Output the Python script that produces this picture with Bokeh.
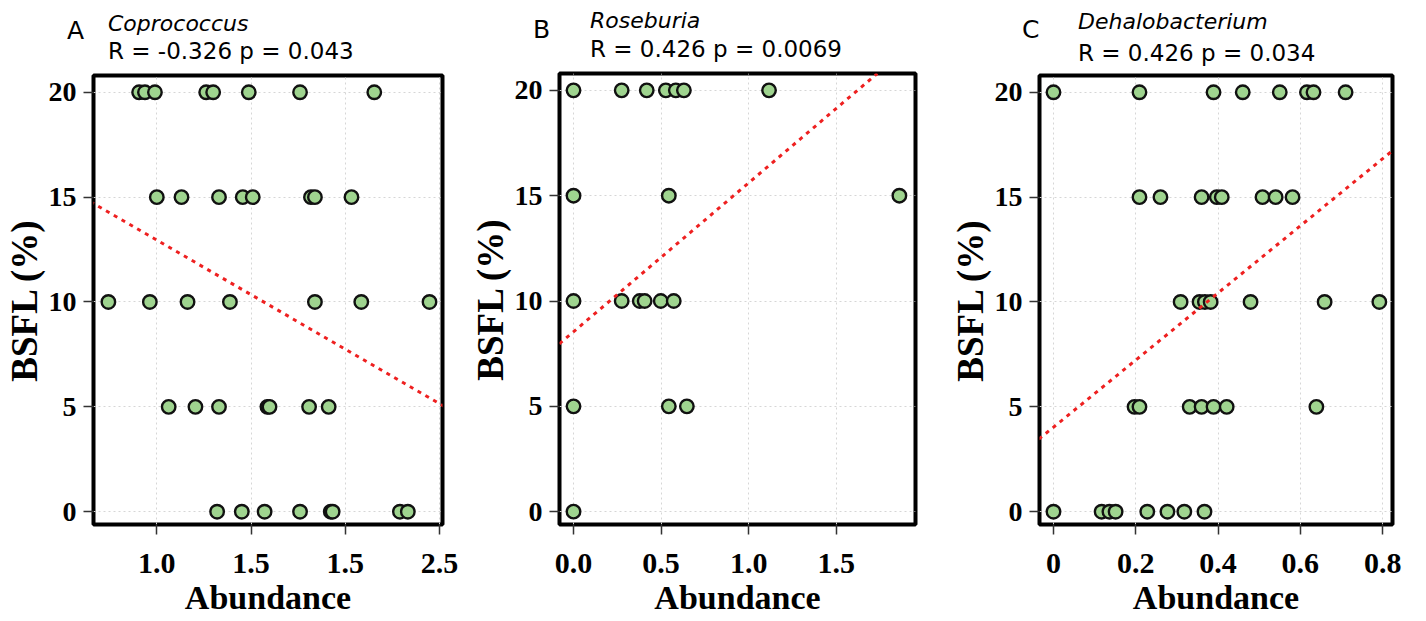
from bokeh.plotting import figure
from bokeh.layouts import row, column
from bokeh.models import Slope, FixedTicker, Range1d, PrintfTickFormatter, Div
from bokeh.embed import file_html
from bokeh.resources import INLINE

# ---------------- data ----------------
panel_letters = ["A", "B", "C"]
genera = ["Coprococcus", "Roseburia", "Dehalobacterium"]
stats = ["R = -0.326 p = 0.043", "R = 0.426 p = 0.0069", "R = 0.426 p = 0.034"]

a_abund = [0.906, 0.937, 0.990, 1.262, 1.299, 1.488, 1.760, 2.154,
           1.000, 1.131, 1.330, 1.456, 1.509, 1.818, 1.839, 2.033,
           0.743, 0.963, 1.163, 1.388, 1.839, 2.085, 2.447,
           1.063, 1.205, 1.330, 1.587, 1.598, 1.808, 1.912,
           1.320, 1.451, 1.572, 1.760, 1.923, 1.933, 2.290, 2.332]
a_bsfl = [20] * 8 + [15] * 8 + [10] * 7 + [5] * 7 + [0] * 8

b_abund = [0.0, 0.275, 0.418, 0.527, 0.584, 0.630, 1.116,
           0.0, 0.544, 1.86,
           0.0, 0.275, 0.378, 0.406, 0.498, 0.572,
           0.0, 0.544, 0.647,
           0.0]
b_bsfl = [20] * 7 + [15] * 3 + [10] * 6 + [5] * 3 + [0] * 1

c_abund = [0.0, 0.209, 0.389, 0.460, 0.550, 0.616, 0.632, 0.710,
           0.209, 0.260, 0.360, 0.397, 0.409, 0.508, 0.540, 0.581,
           0.309, 0.355, 0.368, 0.382, 0.479, 0.659, 0.792,
           0.197, 0.209, 0.331, 0.360, 0.389, 0.421, 0.639,
           0.0, 0.117, 0.136, 0.151, 0.228, 0.277, 0.318, 0.367]
c_bsfl = [20] * 8 + [15] * 8 + [10] * 7 + [5] * 7 + [0] * 8

# regression lines (gradient, intercept)
fit_gradient = [-5.2, 7.07, 16.0]
fit_intercept = [18.15, 8.54, 4.03]

x_ticks = [[1.0, 1.5, 2.0, 2.5], [0.0, 0.5, 1.0, 1.5], [0.0, 0.2, 0.4, 0.6, 0.8]]
x_overrides = [{2: "1.5"}, {}, {0: "0"}]
y_ticks = [0, 5, 10, 15, 20]

x_ranges = [(0.664, 2.516), (-0.08, 1.952), (-0.034, 0.824)]
y_range = (-0.61, 20.8)

# ---------------- layout (pixels) ----------------
HEAD_H = 70
MAIN_H = 548
fig_w = [462, 483, 457]
border_left = [89, 97, 94]
frame_w = [353, 356, 353]
top_border = [5, 3, 5]
# header text placement: left edge and baseline (pixels in the header box)
letter_x = [67, 71, 77]
letter_base = [39, 38, 38]
title_x = [108, 128, 133]
genus_base = [32, 29, 30]
stats_base = [59, 57, 61]
LETTER_FS, GENUS_FS, STATS_FS = 25, 22, 23
ASC = 0.846  # baseline offset (em) for DejaVu Sans with line-height = 1

serif = "Liberation Serif"
sans = "DejaVu Sans"


def span(txt, left, base, fs, italic=False):
    top = base - ASC * fs
    style = ("position:absolute;left:%dpx;top:%.1fpx;font-family:'%s';font-size:%dpx;"
             "line-height:%dpx;white-space:nowrap;color:#000;font-style:%s;"
             % (left, top, sans, fs, fs, "italic" if italic else "normal"))
    return '<span style="%s">%s</span>' % (style, txt)


datasets = [(a_abund, a_bsfl), (b_abund, b_bsfl), (c_abund, c_bsfl)]
cols = []
for i in range(3):
    xs, ys = datasets[i]

    html = ('<div style="position:relative;width:%dpx;height:%dpx;margin:0;padding:0;">' % (fig_w[i], HEAD_H)
            + span(panel_letters[i], letter_x[i], letter_base[i], LETTER_FS)
            + span(genera[i], title_x[i], genus_base[i], GENUS_FS, italic=True)
            + span(stats[i], title_x[i], stats_base[i], STATS_FS)
            + '</div>')
    head = Div(text=html, width=fig_w[i], height=HEAD_H, margin=0)

    # ---- scatter panel ----
    p = figure(width=fig_w[i], height=MAIN_H, output_backend="svg", toolbar_location=None,
               x_range=Range1d(*x_ranges[i]), y_range=Range1d(*y_range),
               min_border_left=border_left[i],
               min_border_right=fig_w[i] - border_left[i] - frame_w[i],
               min_border_top=top_border[i], min_border_bottom=88)
    p.outline_line_color = "black"
    p.outline_line_width = 4
    p.background_fill_color = "white"

    p.xaxis.ticker = FixedTicker(ticks=x_ticks[i])
    p.xaxis.formatter = PrintfTickFormatter(format="%.1f")
    p.yaxis.ticker = FixedTicker(ticks=y_ticks)
    if x_overrides[i]:
        p.xaxis.major_label_overrides = x_overrides[i]
    for ax in (p.xaxis, p.yaxis):
        ax.axis_line_color = None
        ax.major_tick_in = 0
        ax.major_tick_out = 10
        ax.major_tick_line_color = "#333333"
        ax.major_tick_line_width = 1.5
        ax.minor_tick_line_color = None
        ax.major_label_text_font = serif
        ax.major_label_text_font_style = "bold"
        ax.major_label_text_color = "black"
        ax.axis_label_text_font = serif
        ax.axis_label_text_font_style = "bold"
        ax.axis_label_text_color = "black"
    p.xaxis.major_label_text_font_size = "30px"
    p.yaxis.major_label_text_font_size = "28px"
    p.xaxis.major_label_standoff = 19
    p.yaxis.major_label_standoff = 7
    p.xaxis.axis_label = "Abundance"
    p.yaxis.axis_label = "BSFL (%)"
    p.xaxis.axis_label_text_font_size = "34px"
    p.yaxis.axis_label_text_font_size = "37px"
    p.xaxis.axis_label_standoff = 3
    p.yaxis.axis_label_standoff = 1

    p.grid.grid_line_color = "#d6d6d6"
    p.grid.grid_line_dash = "2 3"
    p.grid.grid_line_width = 1

    p.scatter(xs, ys, size=13.5, fill_color="#9fd48f", line_color="#111111", line_width=2.4)

    p.add_layout(Slope(gradient=fit_gradient[i], y_intercept=fit_intercept[i],
                       line_color="#ee2020", line_width=3, line_dash="4 5"))

    cols.append(column(head, p, spacing=0))

layout = row(*cols, spacing=0)
open("out.html", "w").write(file_html(layout, INLINE))
